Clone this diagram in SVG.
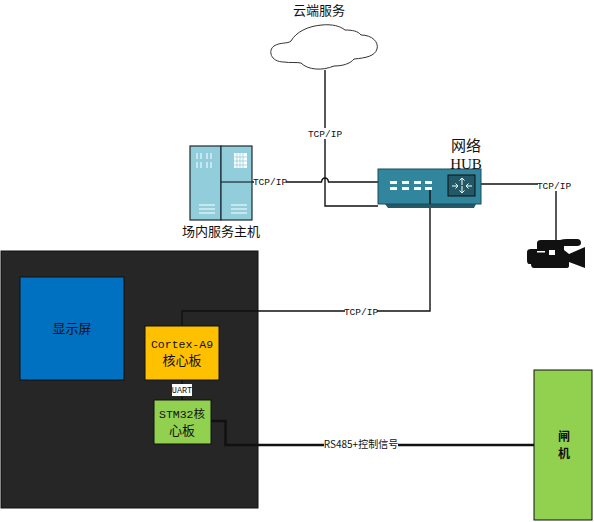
<svg xmlns="http://www.w3.org/2000/svg" width="594" height="522" viewBox="0 0 594 522">
<style>
text{font-family:"Noto Sans CJK SC","DejaVu Sans",sans-serif;fill:#111;text-anchor:middle}
.m{font-family:"Liberation Mono","Noto Sans CJK SC",monospace;font-size:9.500px}
.c{fill:none;stroke:#111;stroke-width:1.4}
.t{fill:#fff;stroke:none}
.b{stroke:#1b2a30;fill:#92cddc;stroke-width:1.2}
.w{stroke:#fff;stroke-width:1;fill:none}
.wf{fill:#fff}
</style>
<rect width="594" height="522" fill="#fff"/>
<g id="board"><rect x="1" y="251" width="257" height="257" fill="#262626" stroke="#111"/></g>
<g id="connectors">
<path class="c" d="M325 70V206H378"/>
<path class="c" d="M221 182H321.500Q322 178 325 178Q328 178 328.500 182H378"/>
<path class="c" d="M481 184H556V242"/>
<path class="c" d="M430 190V311H182V326"/>
<path class="c" d="M182 380V401"/>
<path d="M210 421H225.500V445H535" fill="none" stroke="#111" stroke-width="2.500"/>
</g>
<g id="cloud"><path d="M284 62C270 62 268 50 274 46C280 42 288 44 291 41C296 32 308 26 322 25C332 24 340 26 345 30C352 30 358 31 361 35C372 35 379 42 377 49C375 56 366 58 354 59C350 64 342 66 334 66C322 71 308 70 301 63C296 62 290 63 284 62Z" fill="#fff" stroke="#333" stroke-width="1"/><text x="319" y="15" font-size="13">云端服务</text></g>
<g id="server">
<rect class="b" x="190" y="146" width="31" height="74"/><rect class="b" x="221" y="146" width="31" height="74"/>
<path class="b" d="M221 182H252"/>
<path d="M197 153v6M201 153v6M207 153v6M211 153v6M197 162v6M201 162v6M207 162v6M211 162v6" class="w" stroke-width="1.500"/>
<rect x="234" y="153" width="13" height="15" class="wf"/>
<path d="M237 153v15M240 153v15M243 153v15M234 157h13M234 161h13M234 165h13" stroke="#92cddc" stroke-width=".8"/>
<path class="w" d="M199 205h16M199 209h16M199 213h16M231 205h16M231 209h16M231 213h16"/>
<text x="221" y="236" font-size="13">场内服务主机</text>
</g>
<g id="hub">
<path d="M385 204H476L474 208H388Z" fill="#215968"/>
<rect x="378" y="169" width="103" height="35" fill="#31859c" stroke="#1b4d5c"/>
<rect x="448" y="175" width="27" height="21" fill="#215968" stroke="#111"/>
<path d="M462 178v7M459.500 180.500L462 178L464.500 180.500M462 186v7M459.500 190.500L462 193L464.500 190.500M452 186h6M455.500 183.500L458 186L455.500 188.500M472 186h-6M468.500 183.500L466 186L468.500 188.500" fill="none" stroke="#fff" stroke-width="1"/>
<path d="M390 181h7v3h-7zM402 181h7v3h-7zM414 181h7v3h-7zM425 181h7v3h-7zM390 187h7v3h-7zM402 187h7v3h-7zM414 187h7v3h-7zM425 187h7v3h-7z" fill="#fff"/>
<path class="c" d="M430 190V204"/>
<text x="466" y="151" font-size="15">网络</text>
<text x="466" y="169" font-size="15" style="font-family:'Liberation Serif',serif">HUB</text>
</g>
<g id="camera" fill="#111">
<path d="M531 249H537V243Q537 240 541 240H560Q563 239 567 239H577Q581 239 581 243Q581 246 577 246H564V250L569 254L585 247V268L569 262V266Q569 268 566 268H534Q531 268 531 264H529Q527 264 527 260V252Q527 249 531 249Z"/>
<rect x="537" y="251" width="8" height="1.500" fill="#fff"/><rect x="549" y="250" width="6" height="5" fill="#fff"/>
</g>
<g id="screen"><rect x="20" y="277" width="104" height="103" fill="#0070c0" stroke="#111"/><text x="72" y="333" font-size="13">显示屏</text></g>
<g id="cortex"><rect x="145" y="326" width="74" height="54" fill="#ffc000" stroke="#111"/><text class="m" x="182" y="348" style="font-size:11.500px">Cortex-A9</text><text x="182" y="365" font-size="13">核心板</text></g>
<g id="stm32"><rect x="154" y="400" width="57" height="44" fill="#92d050" stroke="#111"/><text class="m" x="182" y="418" style="font-size:11.500px">STM32核</text><text x="182" y="435" font-size="13">心板</text></g>
<g id="gate"><rect x="534" y="370" width="58" height="150" fill="#92d050" stroke="#111"/><text x="564" y="441" font-size="12" font-weight="700">闸</text><text x="564" y="458" font-size="12" font-weight="700">机</text></g>
<g id="labels">
<rect class="t" x="309" y="128" width="32" height="11"/><text class="m" x="325" y="137">TCP/IP</text>
<rect class="t" x="254" y="176" width="32" height="11"/><text class="m" x="270" y="185">TCP/IP</text>
<rect class="t" x="538" y="180" width="32" height="11"/><text class="m" x="554" y="189">TCP/IP</text>
<rect class="t" x="345" y="306" width="32" height="11"/><text class="m" x="361" y="315">TCP/IP</text>
<rect class="t" x="172" y="384" width="20" height="12"/><text class="m" x="182" y="393" style="font-size:8.500px">UART</text>
<rect class="t" x="324" y="439" width="74" height="12"/><text x="361" y="448" style="font-size:10px">RS485+控制信号</text>
</g>
</svg>
